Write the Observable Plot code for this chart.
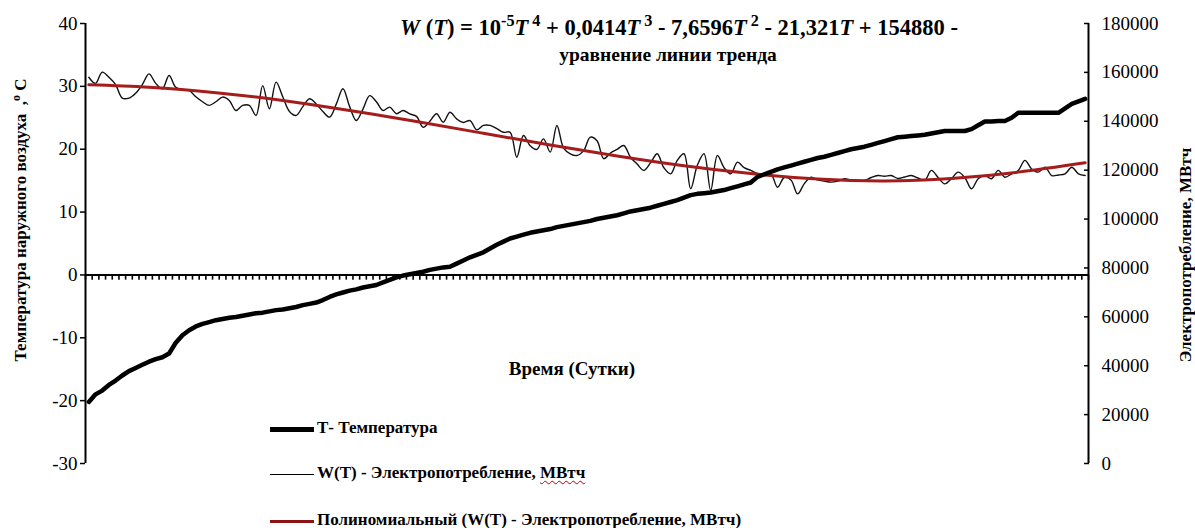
<!DOCTYPE html>
<html>
<head>
<meta charset="utf-8">
<script src="https://cdn.jsdelivr.net/npm/d3@7"></script>
<script src="https://cdn.jsdelivr.net/npm/@observablehq/plot@0.6"></script>
<style>
  html, body { margin: 0; padding: 0; background: #fff; }
  #wrap { position: relative; width: 1195px; height: 528px; overflow: hidden; font-family: "Liberation Serif", "Times New Roman", Times, serif; color: #000; }
  #wrap svg { position: absolute; left: 0; top: 0; }
  .abs { position: absolute; white-space: nowrap; font-weight: bold; line-height: 1; }
  .formula sup { font-size: 0.72em; vertical-align: 0; position: relative; top: -0.55em; line-height: 0; }
  .vlabel { position: absolute; white-space: nowrap; font-weight: bold; font-size: 17px; line-height: 1; transform-origin: center center; }
  .leg { position: absolute; left: 270px; font-weight: bold; font-size: 17px; line-height: 18px; white-space: nowrap; }
  .sw { display: inline-block; width: 44px; margin-right: 3px; vertical-align: middle; }
  .wavy { text-decoration: underline wavy #c00000; text-decoration-thickness: 1px; text-underline-offset: 2px; }
</style>
</head>
<body>
<div id="wrap"></div>
<script>
// ---- data ----
const tempTickLabels = [-30, -20, -10, 0, 10, 20, 30, 40];
const powerTickLabels = [0, 20000, 40000, 60000, 80000, 100000, 120000, 140000, 160000, 180000];

// daily outdoor air temperature, °C (days 1..150)
const temperature = [
  -20.2,-19.0,-18.4,-17.5,-16.8,-16.0,-15.3,-14.8,-14.3,-13.8,
  -13.4,-13.1,-12.5,-10.8,-9.6,-8.8,-8.2,-7.8,-7.5,-7.2,
  -7.0,-6.8,-6.7,-6.5,-6.3,-6.1,-6.0,-5.8,-5.6,-5.5,
  -5.3,-5.1,-4.8,-4.6,-4.4,-4.0,-3.5,-3.1,-2.8,-2.5,
  -2.3,-2.0,-1.8,-1.6,-1.2,-0.8,-0.4,-0.1,0.1,0.3,
  0.5,0.8,1.0,1.2,1.3,1.8,2.3,2.8,3.2,3.6,
  4.2,4.8,5.3,5.8,6.1,6.4,6.7,6.9,7.1,7.3,
  7.6,7.8,8.0,8.2,8.4,8.6,8.9,9.1,9.3,9.5,
  9.8,10.1,10.3,10.5,10.7,11.0,11.3,11.6,11.9,12.3,
  12.7,12.9,13.0,13.1,13.3,13.5,13.8,14.1,14.4,14.7,
  15.6,16.0,16.4,16.8,17.1,17.4,17.7,18.0,18.3,18.6,
  18.8,19.1,19.4,19.7,20.0,20.2,20.4,20.7,21.0,21.3,
  21.6,21.9,22.0,22.1,22.2,22.3,22.5,22.7,22.9,22.9,
  22.9,22.9,23.2,23.8,24.4,24.4,24.5,24.5,25.0,25.8,
  25.8,25.8,25.8,25.8,25.8,25.8,26.5,27.2,27.6,28.0
];

// daily electricity consumption, thousand MWh (days 1..150)
const powerThousand = [
  158,155.5,160.1,158,155,149.5,149.5,151.5,155,159.4,
  155.5,153.3,158.7,153.9,153,152.6,150,148,146.5,148,
  149.9,148.5,144.4,146.5,146.5,142.4,154.6,145.1,156,150,
  144,142.4,146,149.2,147.1,144,141.7,147,153.3,146,
  140.3,145,150.5,148,144.4,145.8,143.1,144.4,143,142,
  137.5,140,143.1,139.6,143.7,141,139.5,140.3,136.5,138.3,
  138.3,137,135.5,135.5,125.3,134.2,130,128.5,132.8,127.4,
  138.3,129,126.7,126,128,133.5,132,124.7,127,128.5,
  130.1,125.3,122.5,119.9,123,126.7,121,118.5,124,126.7,
  112.4,122,126.7,111.7,126,121,118.5,123.3,121,119.9,
  118.7,118.5,118.5,113,117,116,110.3,114.5,117.1,116,
  115.5,115.1,115.5,116.5,116,115.8,115.8,117,117.8,117.5,
  117.8,116.6,117.2,117.8,116.8,115.8,119.9,117,114.4,116.5,
  119.2,117,112.4,116.5,117.8,116.5,119.9,117.1,118.5,119.9,
  124,120.5,119.2,121.2,117.8,118,118.5,121.2,118.5,117.8
];

// polynomial trend line, thousand MWh, read at these days
const trendDays = [1,10,20,30,40,50,60,70,80,90,100,110,120,130,140,150];
const trendThousand = [154.9,153.9,151.7,148.5,144.4,139.9,135.1,130.3,125.8,121.8,118.6,116.4,115.6,116.6,119.2,123.0];

// ---- build tables ----
const T_MIN = -30, T_MAX = 40, W_MAX = 180000;
const toT = w => T_MIN + (w / W_MAX) * (T_MAX - T_MIN);
const fromT = t => Math.round((t - T_MIN) / (T_MAX - T_MIN) * W_MAX);

const rows = temperature.map((t, i) => ({day: i + 1, T: t, W: powerThousand[i] * 1000}));
const trendRows = trendDays.map((d, i) => ({day: d, W: trendThousand[i] * 1000}));
const dayTicks = d3.range(0, rows.length + 1).map(i => ({x: i + 0.5, top: 0, bottom: -0.75}));

const serif = '"Liberation Serif", "Times New Roman", Times, serif';

const chart = Plot.plot({
  width: 1195,
  height: 528,
  marginLeft: 85,
  marginRight: 107,
  marginTop: 23,
  marginBottom: 65,
  style: {fontFamily: serif, fontSize: "19px", color: "#000", background: "transparent", overflow: "visible"},
  x: {domain: [0.5, rows.length + 0.5], axis: null},
  y: {domain: [T_MIN, T_MAX]},
  marks: [
    Plot.axisY({anchor: "left", ticks: tempTickLabels, tickFormat: d => String(d), tickSize: 5, tickPadding: 3, label: null, strokeWidth: 1.5, fontFamily: serif}),
    Plot.axisY({anchor: "right", ticks: powerTickLabels.map(toT), tickFormat: t => String(fromT(t)), tickSize: -5, tickPadding: 18, label: null, strokeWidth: 1.5, fontFamily: serif}),
    Plot.ruleX([0.5], {stroke: "#000", strokeWidth: 2}),
    Plot.ruleX([rows.length + 0.5], {stroke: "#000", strokeWidth: 2}),
    Plot.link(dayTicks, {x1: "x", x2: "x", y1: "top", y2: "bottom", stroke: "#000", strokeWidth: 1.6}),
    Plot.ruleY([0], {stroke: "#000", strokeWidth: 2}),
    Plot.line(rows, {x: "day", y: d => toT(d.W), curve: "catmull-rom", stroke: "#111", strokeWidth: 1.4}),
    Plot.line(trendRows, {x: "day", y: d => toT(d.W), curve: "natural", stroke: "#a51c1c", strokeWidth: 3}),
    Plot.line(rows, {x: "day", y: "T", stroke: "#000", strokeWidth: 4.5, strokeLinejoin: "round", strokeLinecap: "round"})
  ]
});

const wrap = document.getElementById("wrap");
wrap.appendChild(chart);

const html = `
<div class="abs formula" style="left:679px; top:17px; transform:translateX(-50%); font-size:22.5px;"><i>W</i> (<i>T</i>) = 10<sup>-5</sup><i>T</i><sup> 4</sup> + 0,0414<i>T</i><sup> 3</sup> - 7,6596<i>T</i><sup> 2</sup> - 21,321<i>T</i> + 154880 -</div>
<div class="abs" style="left:668px; top:45px; transform:translateX(-50%); font-size:19.5px;">уравнение линии тренда</div>
<div class="abs" style="left:572px; top:359px; transform:translateX(-50%); font-size:19px;">Время (Сутки)</div>
<div class="vlabel" style="left:20px; top:220px; transform:translate(-50%,-50%) rotate(-90deg);">Температура наружного воздуха &nbsp;,<sup style="font-size:0.7em">о</sup> С</div>
<div class="vlabel" style="left:1185px; top:255px; transform:translate(-50%,-50%) rotate(-90deg);">Электропотребление, МВтч</div>
<div class="leg" style="top:419px;"><span class="sw" style="border-top:5px solid #000;"></span>Т- Температура</div>
<div class="leg" style="top:464px;"><span class="sw" style="border-top:1.5px solid #000;"></span>W(T) - Электропотребление, <span class="wavy">МВтч</span></div>
<div class="leg" style="top:511px;"><span class="sw" style="border-top:3px solid #8b1414;"></span>Полиномиальный (W(T) - Электропотребление, <span class="wavy">МВтч</span>)</div>
`;
wrap.insertAdjacentHTML("beforeend", html);
</script>
</body>
</html>
